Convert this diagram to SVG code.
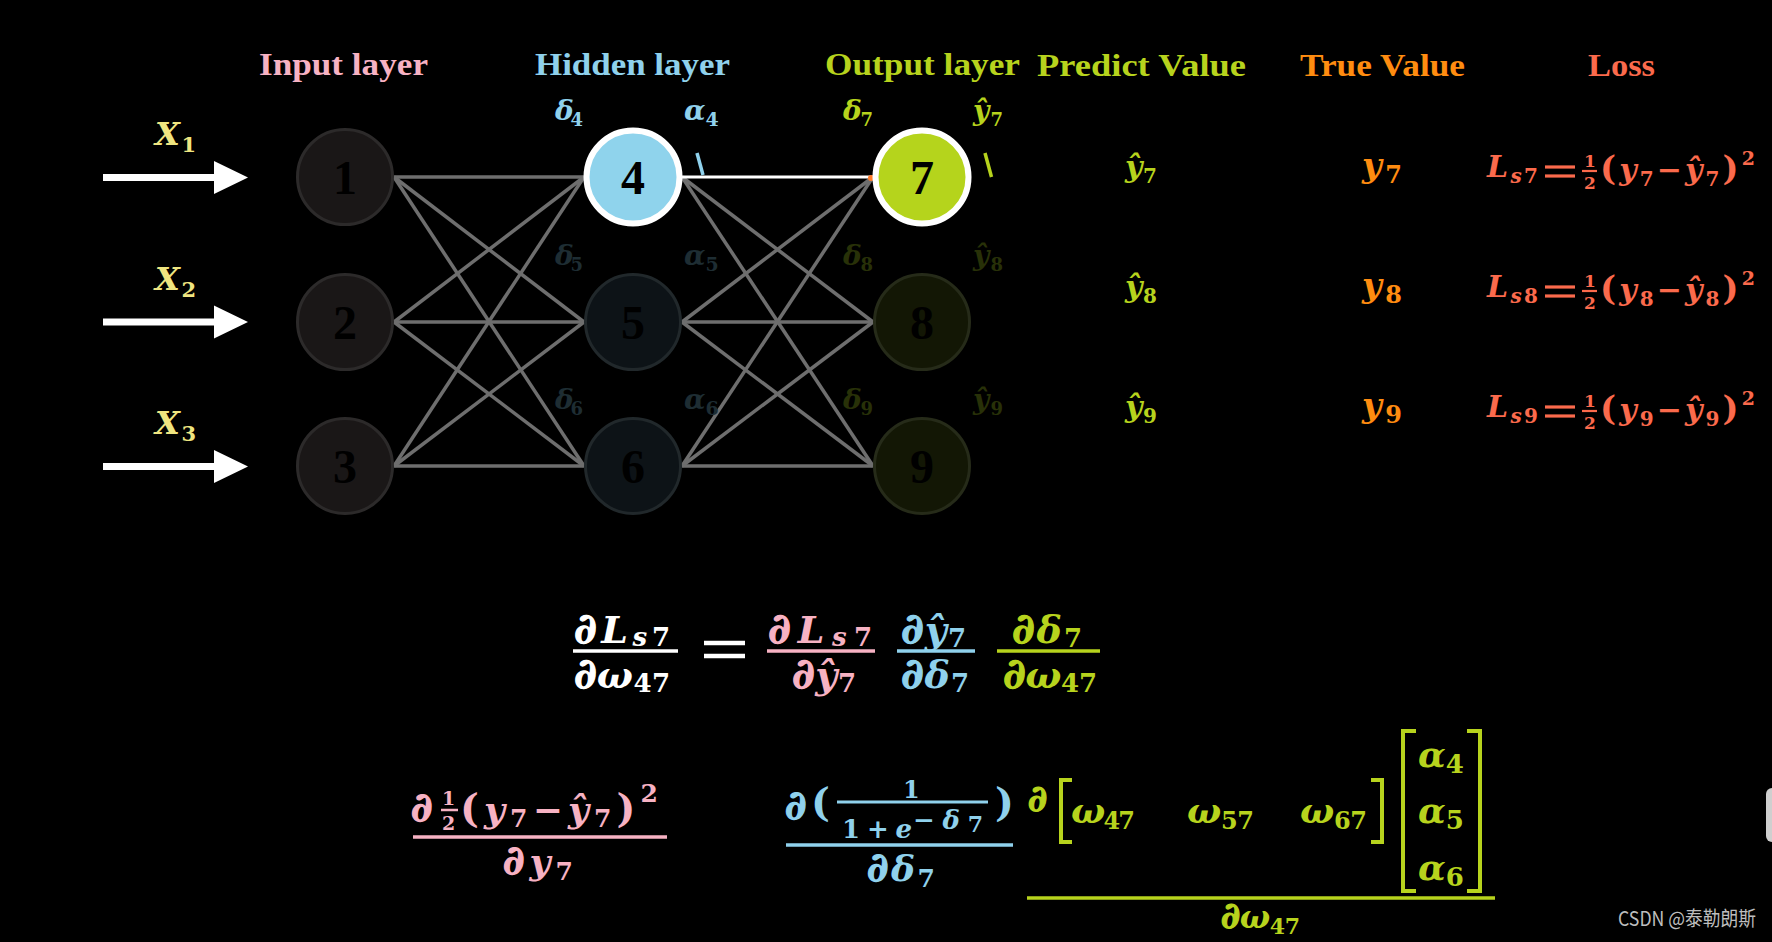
<svg xmlns="http://www.w3.org/2000/svg" width="1772" height="942" viewBox="0 0 1772 942">
<style>
.h{font-family:"Liberation Serif",serif;font-size:32px;font-weight:bold}
.m{font-family:"DejaVu Serif",serif;font-style:italic;font-weight:bold;stroke-width:0}
.u{font-family:"DejaVu Serif",serif;font-weight:bold;stroke-width:0}
.up{font-style:normal}
.dd{stroke-width:1.3px;stroke-linejoin:round}
.d{font-family:"Liberation Serif",serif;font-size:48px;font-weight:bold;fill:#000;text-anchor:middle}
.w{fill:#fff;stroke:#fff}.pk{fill:#f7b2c3;stroke:#f7b2c3}.bl{fill:#8fd1ec;stroke:#8fd1ec}.gr{fill:#b7d31d;stroke:#b7d31d}.og{fill:#ff8c10}.sa{fill:#fb6a4c}.ye{fill:#efe580}
.h.pk,.h.bl,.h.gr{stroke-width:0}
.db{fill:#1e2d33}.dg{fill:#283108}
.conn line{stroke:#6e6e6e;stroke-width:3.5}
.sw{stroke:#fff}.sp{stroke:#f7b2c3}.sb{stroke:#8fd1ec}.sg{stroke:#b7d31d}.ss{stroke:#fb6a4c}
</style>
<rect width="1772" height="942" fill="#000"/>

<!-- headings -->
<g id="headings">
<text class="h pk" x="259" y="75" textLength="169" lengthAdjust="spacingAndGlyphs">Input layer</text>
<text class="h bl" x="535" y="75" textLength="195" lengthAdjust="spacingAndGlyphs">Hidden layer</text>
<text class="h gr" x="825" y="75" textLength="195" lengthAdjust="spacingAndGlyphs">Output layer</text>
<text class="h gr" x="1037" y="76" textLength="209" lengthAdjust="spacingAndGlyphs">Predict Value</text>
<text class="h og" x="1300" y="76" textLength="165" lengthAdjust="spacingAndGlyphs">True Value</text>
<text class="h sa" x="1588" y="76" textLength="67" lengthAdjust="spacingAndGlyphs">Loss</text>
</g>

<!-- input arrows -->
<g id="inputs">
<g id="in1"><rect x="103" y="174" width="113" height="7" fill="#fff"/><polygon points="214,161 248,177.5 214,194" fill="#fff"/>
<text class="m ye" x="155" y="145" font-size="32" textLength="41">X<tspan class="up" dy="7" font-size="21">1</tspan></text></g>
<g id="in2"><rect x="103" y="318.5" width="113" height="7" fill="#fff"/><polygon points="214,305.5 248,322 214,338.5" fill="#fff"/>
<text class="m ye" x="155" y="290" font-size="32" textLength="41">X<tspan class="up" dy="7" font-size="21">2</tspan></text></g>
<g id="in3"><rect x="103" y="463" width="113" height="7" fill="#fff"/><polygon points="214,450 248,466.5 214,483" fill="#fff"/>
<text class="m ye" x="155" y="434" font-size="32" textLength="41">X<tspan class="up" dy="7" font-size="21">3</tspan></text></g>
</g>

<!-- connectors -->
<g id="connectors" class="conn">
<line x1="394" y1="177" x2="584" y2="177"/><line x1="394" y1="177" x2="584" y2="322"/><line x1="394" y1="177" x2="584" y2="466"/>
<line x1="394" y1="322" x2="584" y2="177"/><line x1="394" y1="322" x2="584" y2="322"/><line x1="394" y1="322" x2="584" y2="466"/>
<line x1="394" y1="466" x2="584" y2="177"/><line x1="394" y1="466" x2="584" y2="322"/><line x1="394" y1="466" x2="584" y2="466"/>
<line x1="682" y1="177" x2="873" y2="322"/><line x1="682" y1="177" x2="873" y2="466"/>
<line x1="682" y1="322" x2="873" y2="177"/><line x1="682" y1="322" x2="873" y2="322"/><line x1="682" y1="322" x2="873" y2="466"/>
<line x1="682" y1="466" x2="873" y2="177"/><line x1="682" y1="466" x2="873" y2="322"/><line x1="682" y1="466" x2="873" y2="466"/>
<line x1="682" y1="177" x2="873" y2="177" style="stroke:#fff;stroke-width:3"/>
<circle cx="871" cy="178" r="3" fill="#ff7b2a"/>
</g>

<!-- nodes -->
<g id="node1"><circle cx="345" cy="177" r="47.5" fill="#1a1717" stroke="#2c2a2a" stroke-width="3"/><text class="d" x="345" y="194">1</text></g>
<g id="node2"><circle cx="345" cy="322" r="47.5" fill="#1a1717" stroke="#2c2a2a" stroke-width="3"/><text class="d" x="345" y="339">2</text></g>
<g id="node3"><circle cx="345" cy="466" r="47.5" fill="#1a1717" stroke="#2c2a2a" stroke-width="3"/><text class="d" x="345" y="483">3</text></g>
<g id="node4"><circle cx="633" cy="177" r="46.5" fill="#8fd3ec" stroke="#fff" stroke-width="6"/><text class="d" x="633" y="194">4</text></g>
<g id="node5"><circle cx="633" cy="322" r="47.5" fill="#0d1317" stroke="#21282b" stroke-width="3"/><text class="d" x="633" y="339">5</text></g>
<g id="node6"><circle cx="633" cy="466" r="47.5" fill="#0d1317" stroke="#21282b" stroke-width="3"/><text class="d" x="633" y="483">6</text></g>
<g id="node7"><circle cx="922" cy="177" r="46.5" fill="#b5d41c" stroke="#fff" stroke-width="6"/><text class="d" x="922" y="194">7</text></g>
<g id="node8"><circle cx="922" cy="322" r="47.5" fill="#131705" stroke="#262b19" stroke-width="3"/><text class="d" x="922" y="339">8</text></g>
<g id="node9"><circle cx="922" cy="466" r="47.5" fill="#131705" stroke="#262b19" stroke-width="3"/><text class="d" x="922" y="483">9</text></g>

<!-- node labels -->
<g id="node-labels">
<text class="m bl" x="555" y="120" font-size="28" textLength="28">δ<tspan class="up" dy="6" font-size="18">4</tspan></text>
<text class="m bl" x="684" y="120" font-size="28">α<tspan class="up" dy="6" font-size="19">4</tspan></text>
<text class="m gr" x="843" y="120" font-size="28" textLength="30">δ<tspan class="up" dy="6" font-size="18">7</tspan></text>
<text class="m gr" x="973" y="120" font-size="28" textLength="30">ŷ<tspan class="up" dy="6" font-size="18">7</tspan></text>
<text class="m db" x="555" y="265" font-size="28" textLength="28">δ<tspan class="up" dy="6" font-size="18">5</tspan></text>
<text class="m db" x="684" y="265" font-size="28">α<tspan class="up" dy="6" font-size="19">5</tspan></text>
<text class="m dg" x="843" y="265" font-size="28" textLength="30">δ<tspan class="up" dy="6" font-size="18">8</tspan></text>
<text class="m dg" x="973" y="265" font-size="28" textLength="30">ŷ<tspan class="up" dy="6" font-size="18">8</tspan></text>
<text class="m db" x="555" y="409" font-size="28" textLength="28">δ<tspan class="up" dy="6" font-size="18">6</tspan></text>
<text class="m db" x="684" y="409" font-size="28">α<tspan class="up" dy="6" font-size="19">6</tspan></text>
<text class="m dg" x="843" y="409" font-size="28" textLength="30">δ<tspan class="up" dy="6" font-size="18">9</tspan></text>
<text class="m dg" x="973" y="409" font-size="28" textLength="30">ŷ<tspan class="up" dy="6" font-size="18">9</tspan></text>
<line x1="697" y1="153" x2="703" y2="175" class="sb" stroke-width="3.5"/>
<line x1="985" y1="153" x2="991.5" y2="177" class="sg" stroke-width="3.5"/>
</g>

<!-- predict / true / loss -->
<g id="table">
<g id="row7">
<text class="m gr" x="1125" y="177" font-size="30" textLength="32">ŷ<tspan class="up" dy="6" font-size="20">7</tspan></text>
<text class="m og" x="1362" y="177" font-size="34" textLength="40">y<tspan class="up" dy="6" font-size="24">7</tspan></text>
<text class="m sa" x="1487" y="177" font-size="30" textLength="51">L<tspan dy="6" font-size="20">s</tspan><tspan class="up" font-size="20">7</tspan></text>
<line x1="1545" y1="167" x2="1575" y2="167" class="ss" stroke-width="3.2"/><line x1="1545" y1="176" x2="1575" y2="176" class="ss" stroke-width="3.2"/>
<text class="u sa" x="1584" y="167" font-size="17">1</text><line x1="1582" y1="171" x2="1597" y2="171" class="ss" stroke-width="2.2"/><text class="u sa" x="1584" y="189" font-size="17">2</text>
<text class="m sa" x="1600" y="180" font-size="30" textLength="155"><tspan class="up" font-size="34">(</tspan>y<tspan class="up" dy="6" font-size="20">7</tspan><tspan class="up" dy="-6">−</tspan>ŷ<tspan class="up" dy="6" font-size="20">7</tspan><tspan class="up" dy="-6" font-size="34">)</tspan><tspan class="up" dy="-15" font-size="19">2</tspan></text>
</g>
<g id="row8">
<text class="m gr" x="1125" y="297" font-size="30" textLength="32">ŷ<tspan class="up" dy="6" font-size="20">8</tspan></text>
<text class="m og" x="1362" y="297" font-size="34" textLength="40">y<tspan class="up" dy="6" font-size="24">8</tspan></text>
<text class="m sa" x="1487" y="297" font-size="30" textLength="51">L<tspan dy="6" font-size="20">s</tspan><tspan class="up" font-size="20">8</tspan></text>
<line x1="1545" y1="287" x2="1575" y2="287" class="ss" stroke-width="3.2"/><line x1="1545" y1="296" x2="1575" y2="296" class="ss" stroke-width="3.2"/>
<text class="u sa" x="1584" y="287" font-size="17">1</text><line x1="1582" y1="291" x2="1597" y2="291" class="ss" stroke-width="2.2"/><text class="u sa" x="1584" y="309" font-size="17">2</text>
<text class="m sa" x="1600" y="300" font-size="30" textLength="155"><tspan class="up" font-size="34">(</tspan>y<tspan class="up" dy="6" font-size="20">8</tspan><tspan class="up" dy="-6">−</tspan>ŷ<tspan class="up" dy="6" font-size="20">8</tspan><tspan class="up" dy="-6" font-size="34">)</tspan><tspan class="up" dy="-15" font-size="19">2</tspan></text>
</g>
<g id="row9">
<text class="m gr" x="1125" y="417" font-size="30" textLength="32">ŷ<tspan class="up" dy="6" font-size="20">9</tspan></text>
<text class="m og" x="1362" y="417" font-size="34" textLength="40">y<tspan class="up" dy="6" font-size="24">9</tspan></text>
<text class="m sa" x="1487" y="417" font-size="30" textLength="51">L<tspan dy="6" font-size="20">s</tspan><tspan class="up" font-size="20">9</tspan></text>
<line x1="1545" y1="407" x2="1575" y2="407" class="ss" stroke-width="3.2"/><line x1="1545" y1="416" x2="1575" y2="416" class="ss" stroke-width="3.2"/>
<text class="u sa" x="1584" y="407" font-size="17">1</text><line x1="1582" y1="411" x2="1597" y2="411" class="ss" stroke-width="2.2"/><text class="u sa" x="1584" y="429" font-size="17">2</text>
<text class="m sa" x="1600" y="420" font-size="30" textLength="155"><tspan class="up" font-size="34">(</tspan>y<tspan class="up" dy="6" font-size="20">9</tspan><tspan class="up" dy="-6">−</tspan>ŷ<tspan class="up" dy="6" font-size="20">9</tspan><tspan class="up" dy="-6" font-size="34">)</tspan><tspan class="up" dy="-15" font-size="19">2</tspan></text>
</g>
</g>

<!-- chain rule equation -->
<g id="chain-rule">
<text class="m w" x="574" y="643" font-size="38" textLength="96"><tspan class="dd" font-size="42">∂</tspan>L<tspan dy="3" font-size="26">s</tspan><tspan class="up" font-size="26">7</tspan></text>
<line x1="573" y1="651" x2="678" y2="651" class="sw" stroke-width="3.5"/>
<text class="m w" x="574" y="688" font-size="38" textLength="96"><tspan class="dd" font-size="42">∂</tspan>ω<tspan class="up" dy="4" font-size="26">47</tspan></text>
<line x1="704" y1="643" x2="745" y2="643" class="sw" stroke-width="4.5"/><line x1="704" y1="656" x2="745" y2="656" class="sw" stroke-width="4.5"/>

<text class="m pk" x="768" y="643" font-size="38" textLength="104"><tspan class="dd" font-size="42">∂</tspan>L<tspan dy="3" font-size="26">s</tspan><tspan class="up" font-size="26">7</tspan></text>
<line x1="767" y1="651" x2="875" y2="651" class="sp" stroke-width="3.5"/>
<text class="m pk" x="792" y="688" font-size="38" textLength="64"><tspan class="dd" font-size="42">∂</tspan>ŷ<tspan class="up" dy="4" font-size="26">7</tspan></text>

<text class="m bl" x="901" y="643" font-size="38" textLength="65"><tspan class="dd" font-size="42">∂</tspan>ŷ<tspan class="up" dy="4" font-size="26">7</tspan></text>
<line x1="897" y1="651" x2="975" y2="651" class="sb" stroke-width="3.5"/>
<text class="m bl" x="901" y="688" font-size="38" textLength="68"><tspan class="dd" font-size="42">∂</tspan>δ<tspan class="up" dy="4" font-size="26">7</tspan></text>

<text class="m gr" x="1012" y="643" font-size="38" textLength="70"><tspan class="dd" font-size="42">∂</tspan>δ<tspan class="up" dy="4" font-size="26">7</tspan></text>
<line x1="997" y1="651" x2="1100" y2="651" class="sg" stroke-width="3.5"/>
<text class="m gr" x="1003" y="688" font-size="38" textLength="94"><tspan class="dd" font-size="42">∂</tspan>ω<tspan class="up" dy="4" font-size="26">47</tspan></text>
</g>

<!-- term 1: dL/dy -->
<g id="term-loss">
<text class="m pk dd" x="411" y="821" font-size="40">∂</text>
<text class="u pk" x="442" y="805" font-size="19">1</text><line x1="441" y1="810" x2="458" y2="810" class="sp" stroke-width="2.5"/><text class="u pk" x="442" y="830" font-size="19">2</text>
<text class="m pk" x="460" y="822" font-size="36" textLength="198"><tspan class="up" font-size="40">(</tspan>y<tspan class="up" dy="5" font-size="25">7</tspan><tspan class="up" dy="-5">−</tspan>ŷ<tspan class="up" dy="5" font-size="25">7</tspan><tspan class="up" dy="-5" font-size="40">)</tspan><tspan class="up" dy="-20" font-size="25">2</tspan></text>
<line x1="413" y1="837" x2="667" y2="837" class="sp" stroke-width="3.5"/>
<text class="m pk" x="503" y="874" font-size="36" textLength="70"><tspan class="dd" font-size="40">∂</tspan>y<tspan class="up" dy="6" font-size="25">7</tspan></text>
</g>

<!-- term 2: dsigmoid -->
<g id="term-sigmoid">
<text class="m bl dd" x="785" y="819" font-size="40">∂</text>
<text class="u bl" x="811" y="816" font-size="40">(</text>
<text class="u bl" x="903" y="798" font-size="24">1</text>
<line x1="837" y1="802" x2="988" y2="802" class="sb" stroke-width="3"/>
<text class="u bl" x="842" y="838" font-size="26" textLength="70">1+<tspan class="m">e</tspan></text>
<text class="u bl" x="913" y="829" font-size="26" textLength="70">−<tspan class="m">δ</tspan><tspan dy="3" font-size="22">7</tspan></text>
<text class="u bl" x="995" y="816" font-size="40">)</text>
<line x1="786" y1="845" x2="1013" y2="845" class="sb" stroke-width="3.5"/>
<text class="m bl" x="867" y="881" font-size="36" textLength="68"><tspan class="dd" font-size="40">∂</tspan>δ<tspan class="up" dy="6" font-size="25">7</tspan></text>
</g>

<!-- term 3: d(w a)/dw -->
<g id="term-weights">
<text class="m gr dd" x="1028" y="811" font-size="36">∂</text>
<path d="M1072,780 H1061 V842 H1072" fill="none" class="sg" stroke-width="4"/>
<text class="m gr" x="1071" y="823" font-size="36" textLength="64">ω<tspan class="up" dy="6" font-size="24">47</tspan></text>
<text class="m gr" x="1187" y="823" font-size="36" textLength="67">ω<tspan class="up" dy="6" font-size="24">57</tspan></text>
<text class="m gr" x="1300" y="823" font-size="36" textLength="67">ω<tspan class="up" dy="6" font-size="24">67</tspan></text>
<path d="M1371,780 H1382 V842 H1371" fill="none" class="sg" stroke-width="4"/>
<path d="M1416,731 H1403 V891 H1416" fill="none" class="sg" stroke-width="4"/>
<text class="m gr" x="1418" y="767" font-size="36">α<tspan class="up" dy="6" font-size="26">4</tspan></text>
<text class="m gr" x="1418" y="823" font-size="36">α<tspan class="up" dy="6" font-size="26">5</tspan></text>
<text class="m gr" x="1418" y="880" font-size="36">α<tspan class="up" dy="6" font-size="26">6</tspan></text>
<path d="M1467,731 H1480 V891 H1467" fill="none" class="sg" stroke-width="4"/>
<line x1="1027" y1="898" x2="1495" y2="898" class="sg" stroke-width="3.5"/>
<text class="m gr" x="1221" y="928" font-size="32" textLength="79"><tspan class="dd" font-size="36">∂</tspan>ω<tspan class="up" dy="6" font-size="22">47</tspan></text>
</g>

<rect x="1766" y="788" width="14" height="54" rx="6" fill="#cfcfcf"/>
<text x="1618" y="926" font-family="'Noto Sans CJK SC', 'Noto Sans', sans-serif" font-size="20" fill="#bdbdbd" textLength="138" lengthAdjust="spacingAndGlyphs">CSDN @泰勒朗斯</text>
</svg>
